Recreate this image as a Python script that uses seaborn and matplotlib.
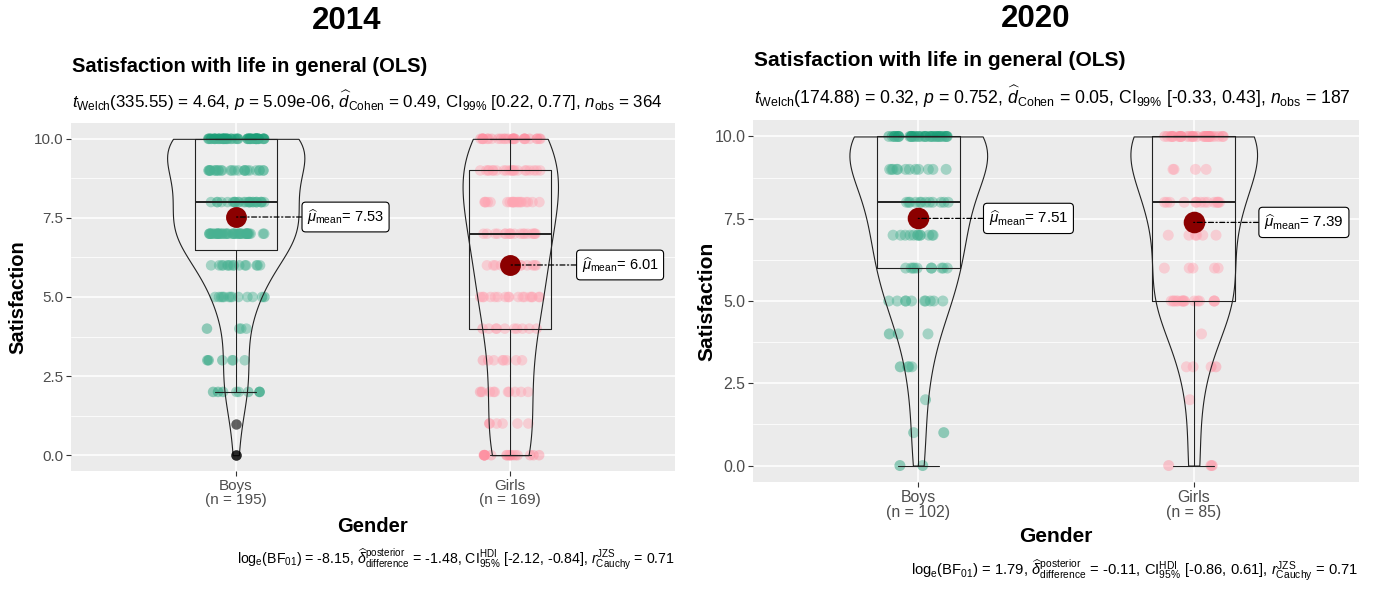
import numpy as np
import pandas as pd
import matplotlib
matplotlib.use("Agg")
import matplotlib.pyplot as plt
import seaborn as sns
from matplotlib.ticker import MultipleLocator

# ---------------- data ----------------
levels = [0, 1, 2, 3, 4, 5, 6, 7, 8, 9, 10]
genders = ["Boys", "Girls"]
years = ["2014", "2020"]

boys_2014 = [2, 1, 8, 6, 4, 13, 15, 40, 26, 26, 54]
girls_2014 = [17, 6, 10, 8, 10, 17, 13, 18, 21, 21, 28]
boys_2020 = [2, 2, 1, 4, 3, 10, 10, 12, 12, 12, 34]
girls_2020 = [3, 0, 1, 4, 1, 16, 5, 6, 14, 4, 31]

title_text = "Satisfaction with life in general (OLS)"
subtitles = [
    r"$t_{\mathrm{Welch}}$(335.55) = 4.64, $p$ = 5.09e-06, $\widehat{d}_{\mathrm{Cohen}}$ = 0.49, CI$_{99\%}$ [0.22, 0.77], $n_{\mathrm{obs}}$ = 364",
    r"$t_{\mathrm{Welch}}$(174.88) = 0.32, $p$ = 0.752, $\widehat{d}_{\mathrm{Cohen}}$ = 0.05, CI$_{99\%}$ [-0.33, 0.43], $n_{\mathrm{obs}}$ = 187",
]
captions = [
    r"log$_{\mathrm{e}}$(BF$_{01}$) = -8.15, $\widehat{\delta}_{\mathrm{difference}}^{\mathrm{posterior}}$ = -1.48, CI$_{95\%}^{\mathrm{HDI}}$ [-2.12, -0.84], $r_{\mathrm{Cauchy}}^{\mathrm{JZS}}$ = 0.71",
    r"log$_{\mathrm{e}}$(BF$_{01}$) = 1.79, $\widehat{\delta}_{\mathrm{difference}}^{\mathrm{posterior}}$ = -0.11, CI$_{95\%}^{\mathrm{HDI}}$ [-0.86, 0.61], $r_{\mathrm{Cauchy}}^{\mathrm{JZS}}$ = 0.71",
]
yticks = [0, 2.5, 5, 7.5, 10]
ytick_labels = ["0.0", "2.5", "5.0", "7.5", "10.0"]
palette = {"Boys": "#1B9E77", "Girls": "#FF8FA0"}

# ---------------- style ----------------
sns.set_theme(style="darkgrid", rc={
    "axes.facecolor": "#EBEBEB",
    "grid.color": "white",
    "axes.axisbelow": True,
    "text.color": "black",
    "axes.labelcolor": "black",
})
plt.rcParams["font.family"] = ["Liberation Sans", "DejaVu Sans"]
plt.rcParams["mathtext.fontset"] = "custom"
plt.rcParams["mathtext.rm"] = "Liberation Sans"
plt.rcParams["mathtext.it"] = "Liberation Sans:italic"
plt.rcParams["mathtext.bf"] = "Liberation Sans:bold"

W, H = 1373, 589
fig = plt.figure(figsize=(W / 100, H / 100), dpi=100)


def fx(px):
    return px / W


def fy(py):
    return 1 - py / H


def nrd0(kde):
    x = kde.dataset[0]
    n = x.size
    sd = x.std(ddof=1)
    q75, q25 = np.percentile(x, [75, 25])
    lo = min(sd, (q75 - q25) / 1.34)
    return 0.9 * lo * n ** -0.2 / sd


def make_df(bc, gc):
    vals = np.concatenate([np.repeat(levels, bc), np.repeat(levels, gc)])
    gen = ["Boys"] * int(np.sum(bc)) + ["Girls"] * int(np.sum(gc))
    return pd.DataFrame({"Gender": gen, "Satisfaction": vals.astype(float)})


panels = [
    dict(df=make_df(boys_2014, girls_2014), box=(71, 123, 675, 471), s=1.0,
         year_xy=(347, 21), title_y=66, sub_y=101, cap_xy=(675, 559),
         ylab_x=17.5, xlab_y=527),
    dict(df=make_df(boys_2020, girls_2020), box=(753, 120, 1359, 482), s=1.04,
         year_xy=(1036, 19), title_y=61, sub_y=97, cap_xy=(1358, 570),
         ylab_x=706.5, xlab_y=536),
]

np.random.seed(3)

for k, p in enumerate(panels):
    x0, y0, x1, y1 = p["box"]
    s = p["s"]
    ax = fig.add_axes([fx(x0), fy(y1), fx(x1 - x0), (y1 - y0) / H])
    df = p["df"]

    # inliers for the jittered points (outliers are drawn by the boxplot)
    keep = []
    for g in genders:
        v = df.loc[df.Gender == g, "Satisfaction"]
        q1, q3 = np.percentile(v, [25, 75])
        iqr = q3 - q1
        keep.append(df[(df.Gender == g) & (df.Satisfaction >= q1 - 1.5 * iqr)
                       & (df.Satisfaction <= q3 + 1.5 * iqr)])
    df_in = pd.concat(keep)

    sns.stripplot(data=df_in, x="Gender", y="Satisfaction", hue="Gender",
                  order=genders, hue_order=genders, palette=palette,
                  jitter=0.11, size=7.6 * s, alpha=0.45, linewidth=0,
                  legend=False, ax=ax, zorder=2)
    n_before = len(ax.collections)
    sns.violinplot(data=df, x="Gender", y="Satisfaction", order=genders,
                   cut=0, density_norm="area", width=0.5, inner=None,
                   color="white", linecolor="#222222", linewidth=0.8,
                   bw_method=nrd0, bw_adjust=1.3, saturation=1, ax=ax)
    for c in ax.collections[n_before:]:
        c.set_facecolor((1, 1, 1, 0.2))
        c.set_zorder(3)
    sns.boxplot(data=df, x="Gender", y="Satisfaction", order=genders,
                width=0.3, fill=False, color="#222222", linewidth=0.8,
                whis=1.5, medianprops=dict(linewidth=1.4),
                flierprops=dict(marker="o", markerfacecolor="black",
                                markeredgecolor="none", markersize=7.5 * s,
                                alpha=0.6),
                ax=ax, zorder=4)
    n_lines = len(ax.lines)
    sns.pointplot(data=df, x="Gender", y="Satisfaction", order=genders,
                  estimator="mean", errorbar=None, color="darkred",
                  markers="o", linestyle="none", markersize=13 * s, ax=ax)
    for ln in ax.lines[n_lines:]:
        ln.set_zorder(5)

    means = df.groupby("Gender")["Satisfaction"].mean()
    for i, g in enumerate(genders):
        m = means[g]
        ax.annotate(r"$\widehat{\mu}_{\mathrm{mean}}$" + f"= {m:.2f}",
                    xy=(i, m), xytext=(i + 0.40, m), ha="center", va="center",
                    fontsize=10.5 * s, color="black",
                    bbox=dict(boxstyle="round,pad=0.35,rounding_size=0.25",
                              fc="white", ec="black", lw=0.8),
                    arrowprops=dict(arrowstyle="-", linestyle=(0, (4, 2, 1, 2)),
                                    color="black", lw=0.9, shrinkA=0, shrinkB=0),
                    zorder=6)

    ns = df.groupby("Gender").size()
    ax.set_xlim(-0.6, 1.6)
    ax.set_ylim(-0.5, 10.5)
    ax.set_xticks([0, 1])
    ax.set_xticklabels([f"{g}\n(n = {ns[g]})" for g in genders],
                       linespacing=1.05)
    ax.set_yticks(yticks)
    ax.set_yticklabels(ytick_labels)
    ax.yaxis.set_minor_locator(MultipleLocator(1.25))
    ax.grid(which="major", color="white", linewidth=1.1)
    ax.grid(which="minor", axis="y", color="white", linewidth=0.55)
    ax.tick_params(axis="both", which="major", length=3.5, width=0.8,
                   color="#333333", labelcolor="#4D4D4D", labelsize=11 * s,
                   pad=2, bottom=True, left=True)
    ax.tick_params(which="minor", length=0)
    for sp in ax.spines.values():
        sp.set_visible(False)

    ax.set_ylabel("Satisfaction", fontsize=14.5 * s, fontweight="bold",
                  color="black")
    ax.yaxis.label.set_va("center")
    ax.yaxis.set_label_coords((p["ylab_x"] - x0) / (x1 - x0), 0.5)
    ax.set_xlabel("Gender", fontsize=14.5 * s, fontweight="bold", color="black")
    ax.xaxis.label.set_va("center")
    ax.xaxis.set_label_coords(0.5, (y1 - p["xlab_y"]) / (y1 - y0))

    fig.text(fx(p["year_xy"][0]), fy(p["year_xy"][1]), years[k],
             ha="center", va="center", fontsize=22.5, fontweight="bold",
             color="black")
    fig.text(fx(x0 + 1), fy(p["title_y"]), title_text, ha="left",
             va="center", fontsize=14.5 * s, fontweight="bold", color="black")
    fig.text(fx(x0 + 1), fy(p["sub_y"]), subtitles[k], ha="left",
             va="center", fontsize=12.2 * s, color="black")
    fig.text(fx(p["cap_xy"][0]), fy(p["cap_xy"][1]), captions[k], ha="right",
             va="center", fontsize=10.2 * s, color="black")

fig.savefig("out.png", dpi=100, facecolor="white")
